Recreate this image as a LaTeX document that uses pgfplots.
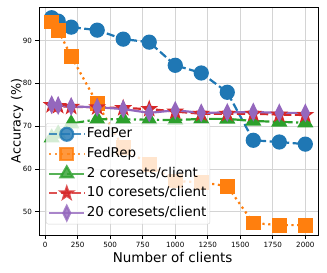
\documentclass[border=0pt]{standalone}
\usepackage{pgfplots}
\pgfplotsset{compat=1.18}
\usepackage{fontspec}
\setmainfont{DejaVu Sans}
\definecolor{c0}{HTML}{1F77B4}
\definecolor{c1}{HTML}{FF7F0E}
\definecolor{c2}{HTML}{2CA02C}
\definecolor{c3}{HTML}{D62728}
\definecolor{c4}{HTML}{9467BD}
\pgfdeclareplotmark{fstar}{%
  \pgfpathmoveto{\pgfpointpolar{90}{\pgfplotmarksize}}%
  \pgfpathlineto{\pgfpointpolar{126}{0.4\pgfplotmarksize}}%
  \pgfpathlineto{\pgfpointpolar{162}{\pgfplotmarksize}}%
  \pgfpathlineto{\pgfpointpolar{198}{0.4\pgfplotmarksize}}%
  \pgfpathlineto{\pgfpointpolar{234}{\pgfplotmarksize}}%
  \pgfpathlineto{\pgfpointpolar{270}{0.4\pgfplotmarksize}}%
  \pgfpathlineto{\pgfpointpolar{306}{\pgfplotmarksize}}%
  \pgfpathlineto{\pgfpointpolar{342}{0.4\pgfplotmarksize}}%
  \pgfpathlineto{\pgfpointpolar{18}{\pgfplotmarksize}}%
  \pgfpathlineto{\pgfpointpolar{54}{0.4\pgfplotmarksize}}%
  \pgfpathclose\pgfusepathqfillstroke}
\begin{document}
\begin{tikzpicture}
\begin{axis}[
  scale only axis, width=279bp, height=228bp,
  xmin=-47.5, xmax=2097.5, ymin=44.6, ymax=97.8,
  xtick={0,250,...,2000}, ytick={50,60,70,80,90},
  grid=major, major grid style={line width=0.8bp, color=black!17},
  axis line style={line width=0.8bp, black},
  tick align=outside, tick pos=left, major tick length=3.5bp,
  every tick/.style={line width=0.8bp, black},
  ticklabel style={font=\fontsize{7.2}{8}\selectfont},
  /pgf/number format/assume math mode=true,
  /pgf/number format/1000 sep={},
  xlabel={Number of clients}, ylabel={Accuracy (\%)},
  xlabel style={font=\fontsize{13.5}{16}\selectfont, at={(axis description cs:0.479,-0.1228)}, anchor=base},
  ylabel style={font=\fontsize{12.8}{16}\selectfont, at={(axis description cs:-0.066,0.5)}, anchor=base, rotate=0},
  legend cell align=left,
  legend style={at={(axis description cs:0.025,0.491)}, anchor=north west,
    font=\fontsize{13.5}{16}\selectfont, draw=black!20, fill=white,
    fill opacity=0.8, draw opacity=0.8, text opacity=1, rounded corners=2bp,
    inner xsep=2bp, inner ysep=3bp, row sep=3.7bp,
    nodes={inner sep=1.5bp, text height=10bp, text depth=3bp}},
  legend image code/.code={\draw[mark repeat=2,mark phase=2] plot coordinates {(0bp,0bp) (17.5bp,0bp) (35bp,0bp)};},
  every axis plot/.append style={line width=2.2bp, line cap=butt},
]
\addplot[c0, dash pattern=on 8.1bp off 3.5bp, mark=*, mark size=6.5bp, mark options={solid}] coordinates {
(50,95.3)(100,94.5)(200,93.1)(400,92.4)(600,90.3)(800,89.6)(1000,84.2)(1200,82.4)(1400,77.9)(1600,66.7)(1800,66.3)(2000,65.8)};
\addlegendentry{FedPer}
\addplot[c1, dash pattern=on 2.2bp off 3.6bp, mark=square*, mark size=6.3bp, mark options={solid}] coordinates {
(50,94.3)(100,92.4)(200,86.3)(400,75.3)(600,65.0)(800,61.0)(1000,57.2)(1200,56.9)(1400,56.0)(1600,47.4)(1800,46.9)(2000,46.9)};
\addlegendentry{FedRep}
\addplot[c2, dash pattern=on 14bp off 3.5bp on 2.2bp off 3.5bp, mark=triangle*, mark size=7.2bp, mark options={solid}] coordinates {
(50,67.3)(100,68.2)(200,70.6)(400,71.6)(600,71.6)(800,71.5)(1000,71.4)(1200,71.7)(1400,71.7)(1600,71.2)(1800,71.0)(2000,70.8)};
\addlegendentry{2 coresets/client}
\addplot[c3, dash pattern=on 8.1bp off 3.5bp, mark=fstar, mark size=6bp, mark options={solid}] coordinates {
(50,74.9)(100,74.7)(200,74.5)(400,74.4)(600,74.2)(800,74.0)(1000,73.4)(1200,72.9)(1400,72.9)(1600,72.9)(1800,72.7)(2000,72.6)};
\addlegendentry{10 coresets/client}
\addplot[c4, solid, mark=diamond*, mark size=7bp, mark options={solid, xscale=0.65}] coordinates {
(50,75.0)(100,74.8)(200,74.6)(400,74.4)(600,74.0)(800,73.1)(1000,73.7)(1200,73.1)(1400,73.2)(1600,73.3)(1800,73.1)(2000,73.1)};
\addlegendentry{20 coresets/client}
\coordinate (bl) at (rel axis cs:0,0);
\coordinate (tr) at (rel axis cs:1,1);
\end{axis}
\pgfresetboundingbox
\path ([shift={(-39bp,-38bp)}]bl) rectangle ([shift={(9bp,7bp)}]tr);
\end{tikzpicture}
\end{document}
